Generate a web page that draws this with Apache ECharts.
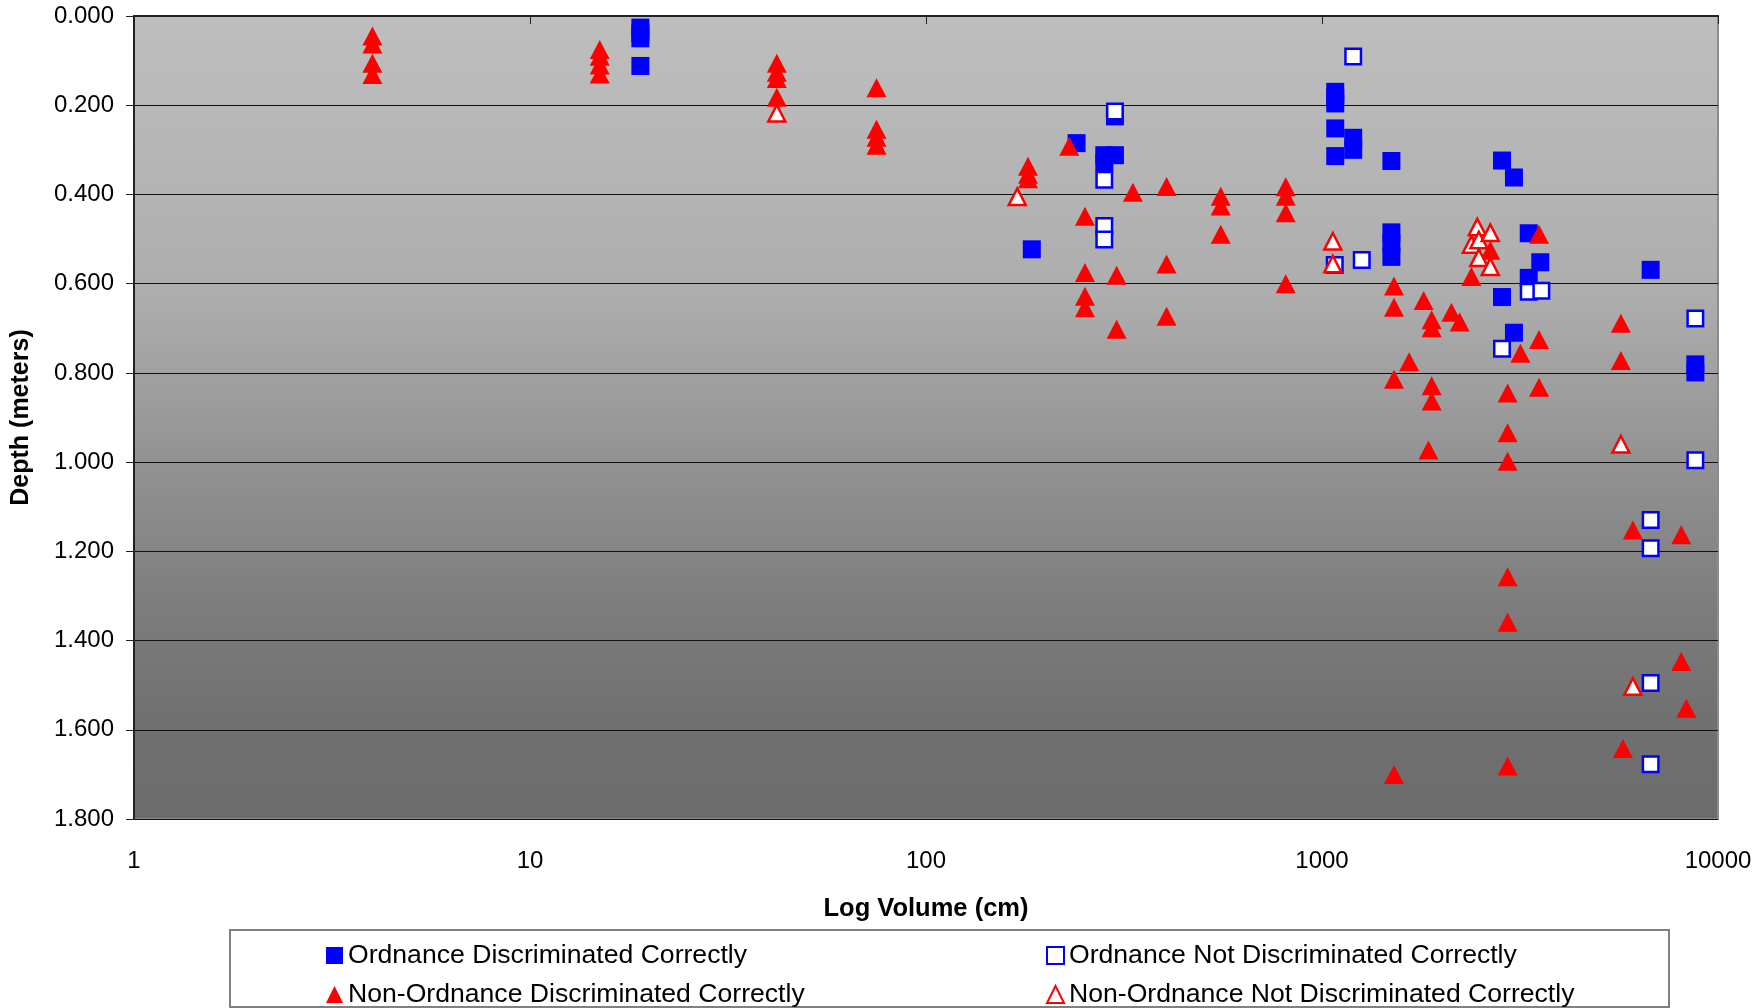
<!DOCTYPE html>
<html>
<head>
<meta charset="utf-8">
<title>Depth vs Log Volume</title>
<script src="https://cdn.jsdelivr.net/npm/echarts@6.0.0/dist/echarts.min.js"></script>
<style>
    html, body { margin: 0; padding: 0; background: #ffffff; }
    #chart { width: 1761px; height: 1008px; }
</style>
</head>
<body>
<div id="chart"></div>
<script>
// series names, as in the legend
const seriesNames = [
    'Ordnance Discriminated Correctly',
    'Ordnance Not Discriminated Correctly',
    'Non-Ordnance Discriminated Correctly',
    'Non-Ordnance Not Discriminated Correctly'
];

// [volume (cm), depth (m)]
const ordnanceCorrect = [
    [19, 0.026], [19, 0.038], [19, 0.05], [19, 0.112],
    [185, 0.523], [240, 0.285], [282, 0.312], [282, 0.329],
    [300, 0.312], [300, 0.225],
    [1080, 0.17], [1080, 0.183], [1080, 0.196], [1080, 0.252], [1080, 0.314],
    [1199, 0.273], [1199, 0.3],
    [1497, 0.325], [1497, 0.485], [1497, 0.51], [1497, 0.54],
    [2848, 0.324], [2848, 0.63], [3053, 0.362], [3053, 0.71],
    [3327, 0.487], [3327, 0.587], [3558, 0.552],
    [6760, 0.569], [8766, 0.781], [8766, 0.799]
];

const ordnanceMissed = [
    [282, 0.367], [282, 0.471], [282, 0.501], [300, 0.214],
    [1077, 0.558], [1199, 0.091], [1260, 0.547],
    [2848, 0.746], [3327, 0.618], [3580, 0.616],
    [6760, 1.13], [6760, 1.193], [6760, 1.495], [6760, 1.677],
    [8766, 0.678], [8766, 0.996]
];

const nonOrdnanceCorrect = [
    [4, 0.045], [4, 0.063], [4, 0.106], [4, 0.131],
    [15, 0.075], [15, 0.09], [15, 0.11], [15, 0.13],
    [42, 0.106], [42, 0.126], [42, 0.14], [42, 0.182],
    [75, 0.161], [75, 0.254], [75, 0.272], [75, 0.29],
    [181, 0.337], [181, 0.355], [181, 0.365], [230, 0.292],
    [252, 0.449], [252, 0.575], [252, 0.628], [252, 0.654],
    [303, 0.581], [303, 0.702], [333, 0.395],
    [405, 0.382], [405, 0.556], [405, 0.673],
    [555, 0.404], [555, 0.426], [555, 0.489],
    [810, 0.383], [810, 0.404], [810, 0.441], [810, 0.6],
    [1520, 0.605], [1520, 0.653], [1520, 0.814], [1520, 1.7],
    [1660, 0.775], [1806, 0.638], [1857, 0.973],
    [1892, 0.681], [1892, 0.699], [1892, 0.829], [1892, 0.863],
    [2122, 0.664], [2227, 0.686], [2384, 0.584], [2661, 0.525],
    [2943, 0.845], [2943, 0.934], [2943, 0.998], [2943, 1.257], [2943, 1.359], [2943, 1.681],
    [3170, 0.756], [3533, 0.489], [3533, 0.725], [3533, 0.832],
    [5685, 0.689], [5685, 0.772], [5754, 1.642], [6097, 1.152],
    [8075, 1.163], [8075, 1.447], [8318, 1.552]
];

const nonOrdnanceMissed = [
    [42, 0.218], [170, 0.405], [1065, 0.505], [1065, 0.556],
    [2384, 0.512], [2467, 0.473], [2489, 0.502], [2489, 0.542],
    [2661, 0.486], [2661, 0.562], [5685, 0.96], [6097, 1.503]
];

// axis ranges
const volumeRange = [1, 10000];
const depthRange = [0, 1.8];
const depthStep = 0.2;

window.addEventListener('load', function() {
    const FONT = 'Liberation Sans, Arial, Helvetica, sans-serif';
    const chart = echarts.init(document.getElementById('chart'), null, { renderer: 'canvas' });

    // one legend block per entry, so each sits where the original has it
    function legendAt(name, left, top) {
        return {
            data: [name],
            left: left,
            top: top,
            padding: 0,
            itemWidth: 17,
            itemHeight: 17,
            selectedMode: false,
            textStyle: { fontSize: 26.6, color: '#000', fontFamily: FONT }
        };
    }

    const option = {
        animation: false,
        backgroundColor: '#ffffff',
        textStyle: { fontFamily: FONT },
        graphic: [{
            type: 'rect',
            z: -1,
            shape: { x: 230, y: 930, width: 1439, height: 77 },
            style: { fill: '#ffffff', stroke: '#808080', lineWidth: 2 }
        }],
        legend: [
            legendAt(seriesNames[0], 326, 942),
            legendAt(seriesNames[1], 1046, 942),
            legendAt(seriesNames[2], 326, 981),
            legendAt(seriesNames[3], 1046, 981)
        ],
        grid: {
            left: 134,
            right: 43,
            top: 16,
            bottom: 189,
            show: true,
            borderColor: '#8c8c8c',
            borderWidth: 2,
            backgroundColor: {
                type: 'linear', x: 0, y: 0, x2: 0, y2: 1,
                colorStops: [
                    { offset: 0, color: '#bebebe' },
                    { offset: 0.35, color: '#adadad' },
                    { offset: 0.55, color: '#939393' },
                    { offset: 0.75, color: '#7b7b7b' },
                    { offset: 0.88, color: '#707070' },
                    { offset: 1, color: '#6c6c6c' }
                ]
            }
        },
        xAxis: {
            type: 'log',
            logBase: 10,
            min: volumeRange[0],
            max: volumeRange[1],
            name: 'Log Volume (cm)',
            nameLocation: 'middle',
            nameGap: 77,
            nameTextStyle: { fontSize: 25.5, fontWeight: 'bold', color: '#000', fontFamily: FONT },
            axisLine: { lineStyle: { color: '#222', width: 2 } },
            axisTick: { show: true, length: 8, lineStyle: { color: '#222', width: 1 } },
            axisLabel: {
                fontSize: 24,
                color: '#000',
                margin: 30,
                fontFamily: FONT,
                formatter: function(v) { return String(Math.round(v)); }
            },
            splitLine: { show: false }
        },
        yAxis: {
            type: 'value',
            inverse: true,
            min: depthRange[0],
            max: depthRange[1],
            interval: depthStep,
            name: 'Depth (meters)',
            nameLocation: 'middle',
            nameGap: 100,
            nameTextStyle: { fontSize: 25, fontWeight: 'bold', color: '#000', fontFamily: FONT },
            axisLine: { show: true, lineStyle: { color: '#222', width: 2 } },
            axisTick: { show: true, length: 8, lineStyle: { color: '#222', width: 1 } },
            axisLabel: {
                fontSize: 24,
                color: '#000',
                margin: 20,
                fontFamily: FONT,
                formatter: function(v) { return v.toFixed(3); }
            },
            splitLine: { show: true, lineStyle: { color: '#111', width: 1.2 } }
        },
        series: [
            {
                name: seriesNames[0],
                type: 'scatter',
                symbol: 'rect',
                symbolSize: 18,
                itemStyle: { color: '#0000ff', opacity: 1 },
                data: ordnanceCorrect
            },
            {
                name: seriesNames[1],
                type: 'scatter',
                symbol: 'rect',
                symbolSize: 15.5,
                itemStyle: { color: '#ffffff', borderColor: '#0000ff', borderWidth: 2.5, opacity: 1 },
                data: ordnanceMissed
            },
            {
                name: seriesNames[2],
                type: 'scatter',
                symbol: 'triangle',
                symbolSize: [20, 19],
                itemStyle: { color: '#ff0000', opacity: 1 },
                data: nonOrdnanceCorrect
            },
            {
                name: seriesNames[3],
                type: 'scatter',
                symbol: 'triangle',
                symbolSize: [17, 16.5],
                itemStyle: { color: '#ffffff', borderColor: '#ff0000', borderWidth: 2.5, opacity: 1 },
                data: nonOrdnanceMissed
            }
        ]
    };

    chart.setOption(option);
    console.log('chart drawn');
});
</script>
</body>
</html>
